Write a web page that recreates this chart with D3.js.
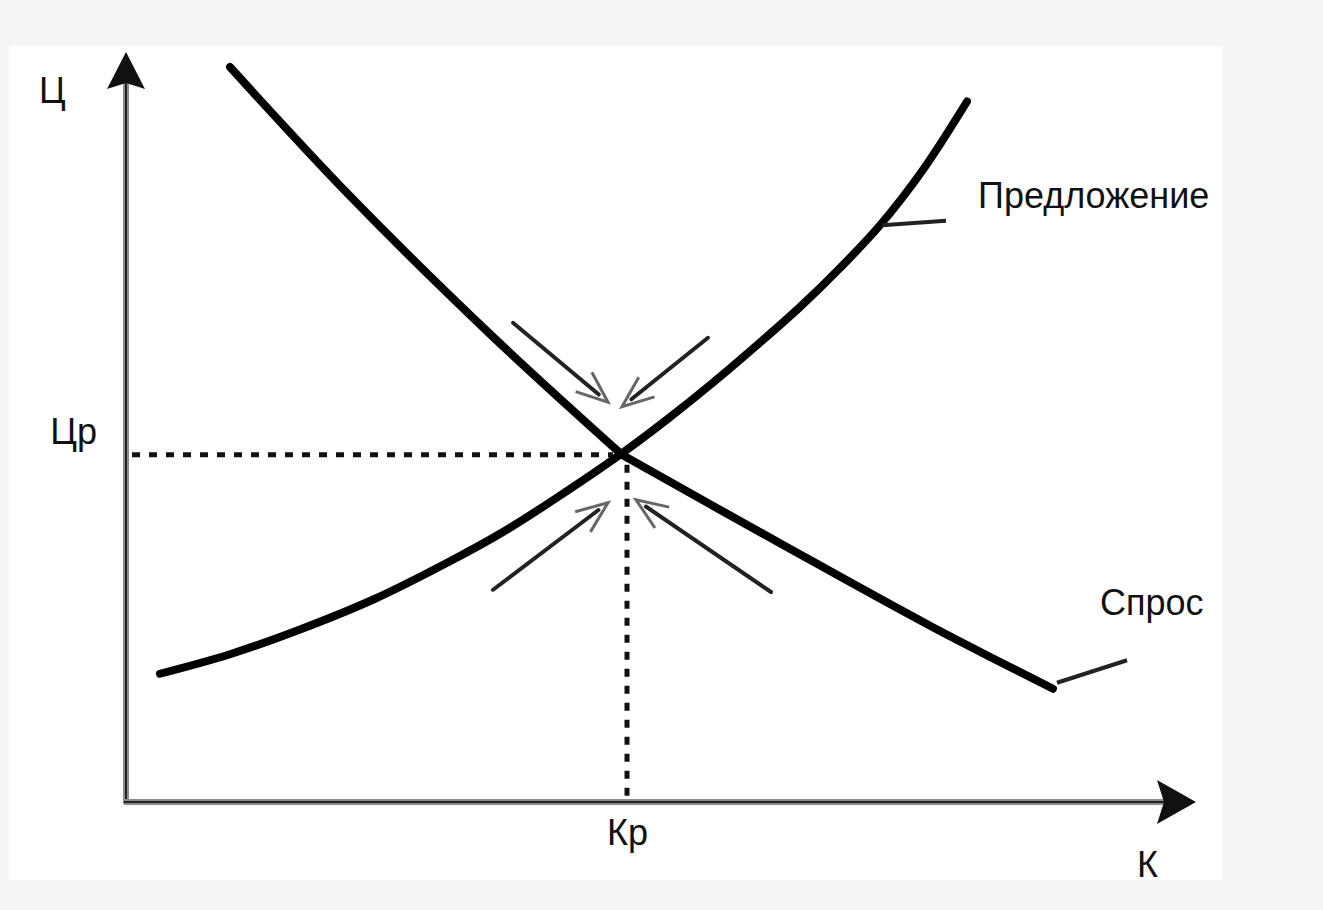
<!DOCTYPE html>
<html lang="ru">
	<head>
		<meta charset="utf-8">
		<title>Спрос и предложение</title>
		<style>
			body {
				margin: 0;
				background: #f5f5f5;
			}

			text {
				font-family: "Liberation Sans", Arial, sans-serif;
				font-size: 36px;
				fill: #111;
			}
		</style>
	</head>
	<body>

		<script src="https://cdn.jsdelivr.net/npm/d3@7"></script>
		<script>
			// Size of the page
			var w = 1323;
			var h = 910;

			// DATA (quantity on x, price on y, both 0..100)

			var supplyQ = [3.4, 10.4, 17.4, 24.9, 32.4, 37.7, 43.0, 49.6, 54.1, 58.5, 63.0, 67.4, 71.4, 75.4, 79.7, 84.1];
			var supplyP = [17.1, 19.7, 23.0, 27.1, 32.1, 36.0, 40.5, 46.5, 51.0, 55.7, 60.8, 66.0, 71.2, 76.9, 84.3, 93.4];

			// demand bends at the equilibrium (index 3)
			var demandQ = [10.4, 22.4, 36.4, 49.6, 65.4, 80.4, 92.7];
			var demandP = [98.0, 80.8, 62.4, 46.3, 34.5, 23.5, 15.1];
			var demandBend = 3;

			// equilibrium point
			var eqQ = 50.1;
			var eqP = 46.3;

			// little arrows pointing at the equilibrium: [q1, p1, q2, p2]
			var arrowsIn = [
				[38.7, 63.9, 48.2, 53.3],
				[58.2, 61.9, 49.6, 52.7],
				[36.7, 28.3, 48.2, 39.9],
				[64.5, 28.0, 51.0, 40.3]
			];

			// curve labels and their leader lines
			var curveLabels = ["Предложение", "Спрос"];
			var labelQ = [85.2, 97.4];
			var labelP = [79.2, 24.9];
			var leaderQ = [[75.6, 82.0], [93.1, 100.1]];
			var leaderP = [[76.9, 77.5], [15.9, 18.9]];

			// axis texts
			var axisNames = ["Ц", "К"];
			var tickQ = ["Кр"];
			var tickP = ["Цр"];


			var svg = d3.select("body").append("svg")
				.attr("width", w)
				.attr("height", h);

			// white panel
			svg.append("rect")
				.attr("x", 9)
				.attr("y", 46)
				.attr("width", 1213)
				.attr("height", 834)
				.attr("fill", "white");

			var x = d3.scaleLinear().domain([0, 100]).range([126, 1126]);
			var y = d3.scaleLinear().domain([0, 100]).range([802, 52]);

			var line = d3.line()
				.x(function(d) { return x(d[0]); })
				.y(function(d) { return y(d[1]); })
				.curve(d3.curveCatmullRom.alpha(0.5));

			var supply = supplyQ.map(function(q, i) { return [q, supplyP[i]]; });
			var demand = demandQ.map(function(q, i) { return [q, demandP[i]]; });


			// AXES

			// labels Кр / Цр through d3 axes, the lines are drawn by hand below
			var xAxis = svg.append("g")
				.attr("transform", "translate(0,802)")
				.call(d3.axisBottom(x).tickValues([eqQ]).tickFormat(function() { return tickQ[0]; })
					.tickSize(0).tickPadding(17));

			var yAxis = svg.append("g")
				.attr("transform", "translate(126,0)")
				.call(d3.axisLeft(y).tickValues([eqP]).tickFormat(function() { return tickP[0]; })
					.tickSize(0).tickPadding(29));

			svg.selectAll(".domain").remove();
			svg.selectAll(".tick text")
				.attr("font-size", null)
				.attr("font-family", null)
				.attr("fill", "#111");
			yAxis.select(".tick text").attr("dy", "-0.3em");

			// dotted guides
			svg.append("line")
				.attr("x1", x(0) + 6).attr("y1", y(eqP))
				.attr("x2", x(eqQ) - 14).attr("y2", y(eqP))
				.attr("stroke", "#111")
				.attr("stroke-width", 5)
				.attr("stroke-dasharray", "8,9");

			svg.append("line")
				.attr("x1", x(eqQ)).attr("y1", y(eqP) + 10)
				.attr("x2", x(eqQ)).attr("y2", y(0))
				.attr("stroke", "#111")
				.attr("stroke-width", 5)
				.attr("stroke-dasharray", "8,9");

			// axis lines: grey band with a dark core
			var axisLines = [
				[x(0), y(0) + 2, x(0), y(0) - 720],
				[x(0) - 2, y(0), 1170, y(0)]
			];
			axisLines.forEach(function(a) {
				svg.append("line")
					.attr("x1", a[0]).attr("y1", a[1]).attr("x2", a[2]).attr("y2", a[3])
					.attr("stroke", "#8c8c8c").attr("stroke-width", 6);
				svg.append("line")
					.attr("x1", a[0]).attr("y1", a[1]).attr("x2", a[2]).attr("y2", a[3])
					.attr("stroke", "#222").attr("stroke-width", 2);
			});

			// arrow heads of the axes
			svg.append("path")
				.attr("d", "M126,52 L145,89 L126,83 L107,89 Z")
				.attr("fill", "#111");
			svg.append("path")
				.attr("d", "M1196,802 L1157,780 L1164,802 L1157,824 Z")
				.attr("fill", "#111");

			// axis names
			svg.append("text").attr("x", 39).attr("y", 103).text(axisNames[0]);
			svg.append("text").attr("x", 1137).attr("y", 877).text(axisNames[1]);


			// CURVES

			var curves = [
				supply,
				demand.slice(0, demandBend + 1),
				demand.slice(demandBend)
			];

			svg.selectAll(".curve")
				.data(curves)
				.enter()
				.append("path")
				.attr("class", "curve")
				.attr("d", line)
				.attr("fill", "none")
				.attr("stroke", "#000")
				.attr("stroke-width", 8)
				.attr("stroke-linecap", "round")
				.attr("stroke-linejoin", "round");


			// SMALL ARROWS

			arrowsIn.forEach(function(a) {
				var x1 = x(a[0]), y1 = y(a[1]), x2 = x(a[2]), y2 = y(a[3]);
				var ang = Math.atan2(y2 - y1, x2 - x1);
				var len = 34, spread = 0.38;
				// shaft
				svg.append("line")
					.attr("x1", x1).attr("y1", y1)
					.attr("x2", x2 - Math.cos(ang) * 12).attr("y2", y2 - Math.sin(ang) * 12)
					.attr("stroke", "#222")
					.attr("stroke-width", 4)
					.attr("stroke-linecap", "round");
				// open head
				var p1 = [x2 - Math.cos(ang - spread) * len, y2 - Math.sin(ang - spread) * len];
				var p2 = [x2 - Math.cos(ang + spread) * len, y2 - Math.sin(ang + spread) * len];
				svg.append("path")
					.attr("d", "M" + p1 + "L" + [x2, y2] + "L" + p2)
					.attr("fill", "none")
					.attr("stroke", "#666")
					.attr("stroke-width", 3)
					.attr("stroke-linejoin", "miter");
			});


			// CURVE LABELS

			curveLabels.forEach(function(t, i) {
				svg.append("line")
					.attr("x1", x(leaderQ[i][0])).attr("y1", y(leaderP[i][0]))
					.attr("x2", x(leaderQ[i][1])).attr("y2", y(leaderP[i][1]))
					.attr("stroke", "#222")
					.attr("stroke-width", 4);
				svg.append("text")
					.attr("x", x(labelQ[i]))
					.attr("y", y(labelP[i]))
					.text(t);
			});
		</script>
	</body>
</html>
